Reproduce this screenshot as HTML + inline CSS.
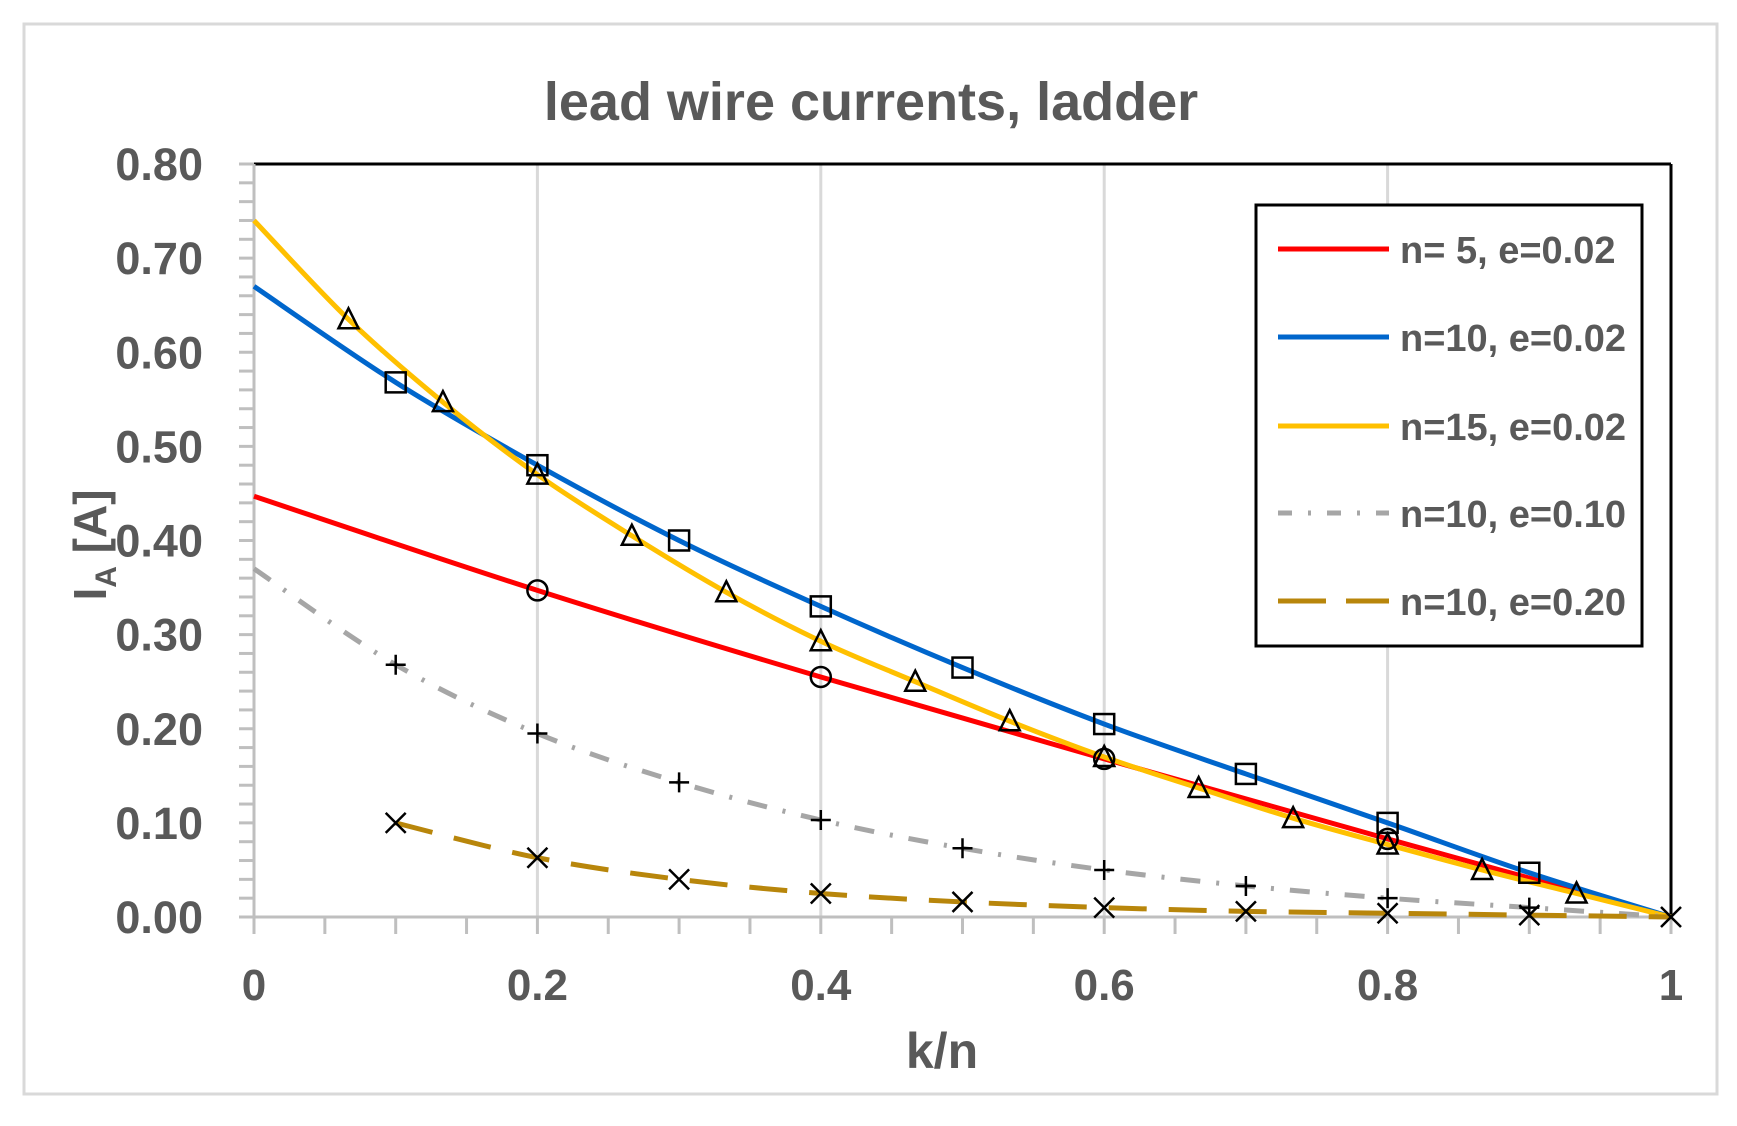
<!DOCTYPE html>
<html><head><meta charset="utf-8"><style>
html,body{margin:0;padding:0;background:#fff;}
svg{display:block;font-family:"Liberation Sans",sans-serif;}
</style></head><body>
<svg width="1737" height="1126" viewBox="0 0 1737 1126">
<rect x="24" y="24" width="1693" height="1070" fill="#fff" stroke="#d9d9d9" stroke-width="3"/>
<text x="871" y="120" text-anchor="middle" font-size="54" font-weight="bold" fill="#595959">lead wire currents, ladder</text>
<g id="grid"></g>
<g id="axes"></g>
<g id="series"></g>
<g id="markers"></g>
<text x="942" y="1068" text-anchor="middle" font-size="50" font-weight="bold" fill="#595959">k/n</text>
<text transform="translate(106,545) rotate(-90)" text-anchor="middle" font-size="46" font-weight="bold" fill="#595959">I<tspan font-size="30" dy="10">A</tspan><tspan dy="-10"> [A]</tspan></text>
<g>
<rect x="1256" y="205" width="386" height="441" fill="#fff" stroke="#000" stroke-width="3"/>
<g id="legend"></g>
</g>
</svg>
<script>
const xTicks=[0,0.2,0.4,0.6,0.8,1];
const xTickLabels=["0","0.2","0.4","0.6","0.8","1"];
const yTicks=[0,0.1,0.2,0.3,0.4,0.5,0.6,0.7,0.8];
const yTickLabels=["0.00","0.10","0.20","0.30","0.40","0.50","0.60","0.70","0.80"];
const n5x=[0,0.2,0.4,0.6,0.8,1];
const n5y=[0.447,0.347,0.255,0.168,0.083,0];
const n10x=[0,0.1,0.2,0.3,0.4,0.5,0.6,0.7,0.8,0.9,1];
const n10y=[0.67,0.568,0.48,0.40,0.33,0.265,0.205,0.152,0.10,0.047,0];
const n15x=[0,1/15,2/15,3/15,4/15,5/15,6/15,7/15,8/15,9/15,10/15,11/15,12/15,13/15,14/15,1];
const n15y=[0.74,0.635,0.547,0.47,0.405,0.345,0.293,0.25,0.208,0.17,0.137,0.105,0.077,0.05,0.025,0];
const e10x=[0,0.1,0.2,0.3,0.4,0.5,0.6,0.7,0.8,0.9,1];
const e10y=[0.37,0.268,0.195,0.143,0.103,0.073,0.05,0.033,0.02,0.01,0];
const e20x=[0.1,0.2,0.3,0.4,0.5,0.6,0.7,0.8,0.9,1];
const e20y=[0.10,0.063,0.04,0.025,0.016,0.01,0.006,0.004,0.002,0];
const legendLabels=["n= 5, e=0.02","n=10, e=0.02","n=15, e=0.02","n=10, e=0.10","n=10, e=0.20"];

const X0=254,X1=1671,Y0=917,Y1=164;
const sx=v=>X0+(X1-X0)*v;
const sy=v=>Y0-(Y0-Y1)*v/0.8;
const NS="http://www.w3.org/2000/svg";
function mk(tag,attrs,parent){const e=document.createElementNS(NS,tag);for(const k in attrs)e.setAttribute(k,attrs[k]);parent.appendChild(e);return e;}
const grid=document.getElementById('grid'),axes=document.getElementById('axes'),ser=document.getElementById('series'),mar=document.getElementById('markers'),leg=document.getElementById('legend');

xTicks.forEach((t,i)=>{
 if(t>0&&t<1){const g=mk('line',{x1:sx(t),x2:sx(t),y1:Y1,y2:Y0,stroke:'#d9d9d9','stroke-width':3},grid);
 
 }
 const tx=mk('text',{x:sx(t),y:1000,'text-anchor':'middle','font-size':44,'font-weight':'bold',fill:'#595959'},axes);
 tx.textContent=xTickLabels[i];
 
 
});
for(let k=0;k<=20;k++){const v=k*0.05;mk('line',{x1:sx(v),x2:sx(v),y1:Y0,y2:Y0+17,stroke:'#bfbfbf','stroke-width':3},axes);}
for(let k=0;k<=40;k++){const v=k*0.02;mk('line',{x1:X0-15,x2:X0,y1:sy(v),y2:sy(v),stroke:'#bfbfbf','stroke-width':3},axes);}
yTicks.forEach((t,i)=>{
 const tx=mk('text',{x:203,y:sy(t)+16,'text-anchor':'end','font-size':45,'font-weight':'bold',fill:'#595959'},axes);
 tx.textContent=yTickLabels[i];
 
 
});
mk('line',{x1:X0,x2:X1,y1:Y1,y2:Y1,stroke:'#000','stroke-width':3},axes);
mk('line',{x1:X1,x2:X1,y1:Y1,y2:Y0,stroke:'#000','stroke-width':3},axes);
mk('line',{x1:X0,x2:X0,y1:Y1,y2:Y0,stroke:'#bfbfbf','stroke-width':3},axes);
mk('line',{x1:X0-15,x2:X1,y1:Y0,y2:Y0,stroke:'#bfbfbf','stroke-width':3},axes);

function pathD(xs,ys){
 const p=xs.map((x,i)=>[sx(x),sy(ys[i])]);
 let d='M'+p[0][0]+','+p[0][1];
 for(let i=0;i<p.length-1;i++){
  const a=p[i-1]||p[i],b=p[i],c=p[i+1],e=p[i+2]||c;
  const c1=[b[0]+(c[0]-a[0])/6,b[1]+(c[1]-a[1])/6],c2=[c[0]-(e[0]-b[0])/6,c[1]-(e[1]-b[1])/6];
  d+=' C'+c1[0]+','+c1[1]+' '+c2[0]+','+c2[1]+' '+c[0]+','+c[1];
 }
 return d;
}
const S=[
 {x:n5x,y:n5y,c:'#ff0000',dash:'',m:'circle',name:'series-n5-e002'},
 {x:n10x,y:n10y,c:'#0066cc',dash:'',m:'square',name:'series-n10-e002'},
 {x:n15x,y:n15y,c:'#ffc000',dash:'',m:'triangle',name:'series-n15-e002'},
 {x:e10x,y:e10y,c:'#a6a6a6',dash:'20 16 3 16',m:'plus',name:'series-n10-e010'},
 {x:e20x,y:e20y,c:'#b8860b',dash:'38 22',m:'x',name:'series-n10-e020'}
];
S.forEach(s=>{
 const p=mk('path',{d:pathD(s.x,s.y),fill:'none',stroke:s.c,'stroke-width':5,'stroke-dasharray':s.dash},ser);
 
 
});
function marker(type,cx,cy){
 let e;
 if(type==='circle')e=mk('circle',{cx,cy,r:10,fill:'none',stroke:'#000','stroke-width':2.5},mar);
 else if(type==='square')e=mk('rect',{x:cx-10,y:cy-10,width:20,height:20,fill:'none',stroke:'#000','stroke-width':2.5},mar);
 else if(type==='triangle')e=mk('path',{d:`M${cx},${cy-11} L${cx+10},${cy+9} L${cx-10},${cy+9} Z`,fill:'none',stroke:'#000','stroke-width':2.5},mar);
 else if(type==='plus')e=mk('path',{d:`M${cx-10},${cy} H${cx+10} M${cx},${cy-10} V${cy+10}`,stroke:'#000','stroke-width':2.5},mar);
 else e=mk('path',{d:`M${cx-10},${cy-10} L${cx+10},${cy+10} M${cx+10},${cy-10} L${cx-10},${cy+10}`,stroke:'#000','stroke-width':2.5},mar);
 return e;
}
S.forEach((s,si)=>{
 s.x.forEach((x,i)=>{
  if(x===0)return;
  if(x===1&&s.m!=='x')return;
  const e=marker(s.m,sx(x),sy(s.y[i]));
  
  
 });
});
const ly=[249,337,426,513,601];
S.forEach((s,i)=>{
 const l=mk('line',{x1:1278,x2:1389,y1:ly[i],y2:ly[i],stroke:s.c,'stroke-width':5,'stroke-dasharray':i===3?'14 16 3 16':(i===4?'48 20':'')},leg);
 
 
 const t=mk('text',{x:1400,y:ly[i]+14,'font-size':38,'font-weight':'bold',fill:'#595959'},leg);
 t.textContent=legendLabels[i];
 
 
});
</script>
</body></html>
